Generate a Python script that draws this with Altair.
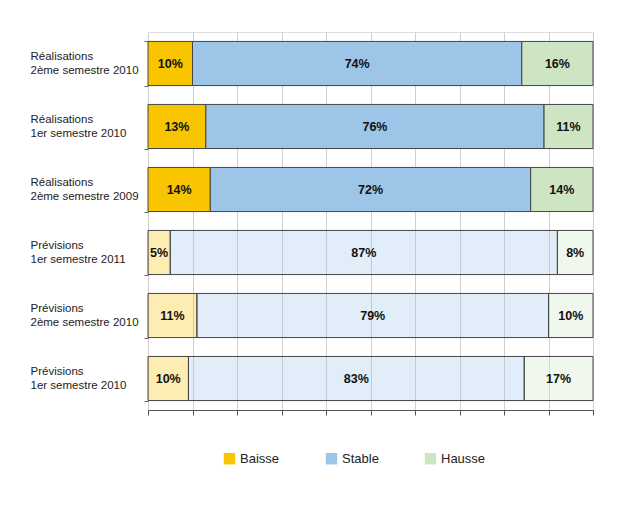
import altair as alt
import pandas as pd

rows = [
    "Réalisations|2ème semestre 2010",
    "Réalisations|1er semestre 2010",
    "Réalisations|2ème semestre 2009",
    "Prévisions|1er semestre 2011",
    "Prévisions|2ème semestre 2010",
    "Prévisions|1er semestre 2010",
]
kinds = ["Réalisations", "Réalisations", "Réalisations", "Prévisions", "Prévisions", "Prévisions"]
categories = ["Baisse", "Stable", "Hausse"]
baisse = [10, 13, 14, 5, 11, 10]
stable = [74, 76, 72, 87, 79, 83]
hausse = [16, 11, 14, 8, 10, 17]

recs = []
for i, r in enumerate(rows):
    for j, (c, vals) in enumerate(zip(categories, [baisse, stable, hausse])):
        recs.append({"row": r, "kind": kinds[i], "cat": c, "ord": j, "value": vals[i]})
df = pd.DataFrame(recs)

colors = ["#F8C500", "#9CC5E8", "#CDE5C3"]
font = "Liberation Sans"

base = alt.Chart(df).transform_joinaggregate(
    total="sum(value)", groupby=["row"]
).transform_window(
    cum="sum(value)", groupby=["row"], sort=[alt.SortField("ord")], frame=[None, 0]
).transform_calculate(
    start="(datum.cum - datum.value) / datum.total",
    end="datum.cum / datum.total",
    mid="(datum.cum - datum.value / 2) / datum.total",
    label="datum.value + '%'",
)

y = alt.Y(
    "row:N",
    sort=rows,
    title=None,
    scale=alt.Scale(paddingInner=0.3, paddingOuter=0.15),
    axis=alt.Axis(
        labelExpr="split(datum.label, '|')",
        labelAlign="left",
        labelPadding=114,
        labelFont=font,
        labelFontSize=11.5,
        labelColor="#222",
        labelLimit=200,
        labelOffset=-7,
        tickBand="extent",
        tickColor="#666",
        tickSize=4,
        domain=False,
        grid=False,
    ),
)

bars = base.mark_bar(stroke="#444", strokeWidth=1).encode(
    x=alt.X(
        "start:Q",
        scale=alt.Scale(domain=[0, 1], nice=False),
        title=None,
        axis=alt.Axis(
            values=[i / 10 for i in range(11)],
            labels=False,
            grid=True,
            gridColor="#cfcfcf",
            domainColor="#555",
            tickColor="#555",
            tickSize=5,
        ),
    ),
    x2="end:Q",
    y=y,
    color=alt.Color(
        "cat:N",
        scale=alt.Scale(domain=categories, range=colors),
        legend=alt.Legend(
            title=None,
            orient="none",
            legendX=75,
            legendY=420,
            direction="horizontal",
            symbolType="square",
            symbolSize=130,
            symbolStrokeWidth=0,
            labelFont=font,
            labelFontSize=13,
            labelColor="#222",
            columnPadding=45,
        ),
    ),
    fillOpacity=alt.condition(alt.datum.kind == "Prévisions", alt.value(0.3), alt.value(1)),
)

texts = base.mark_text(font=font, fontSize=12.5, fontWeight="bold", color="#111").encode(
    x="mid:Q",
    y=alt.Y("row:N", sort=rows),
    text="label:N",
)

chart = alt.layer(bars, texts).properties(
    width=445,
    height=378,
    padding={"left": 22, "top": 18, "right": 5, "bottom": 5},
).configure_view(stroke=None).configure(background="white")

chart.save("out.html", embed_options={"renderer": "svg", "actions": False})
